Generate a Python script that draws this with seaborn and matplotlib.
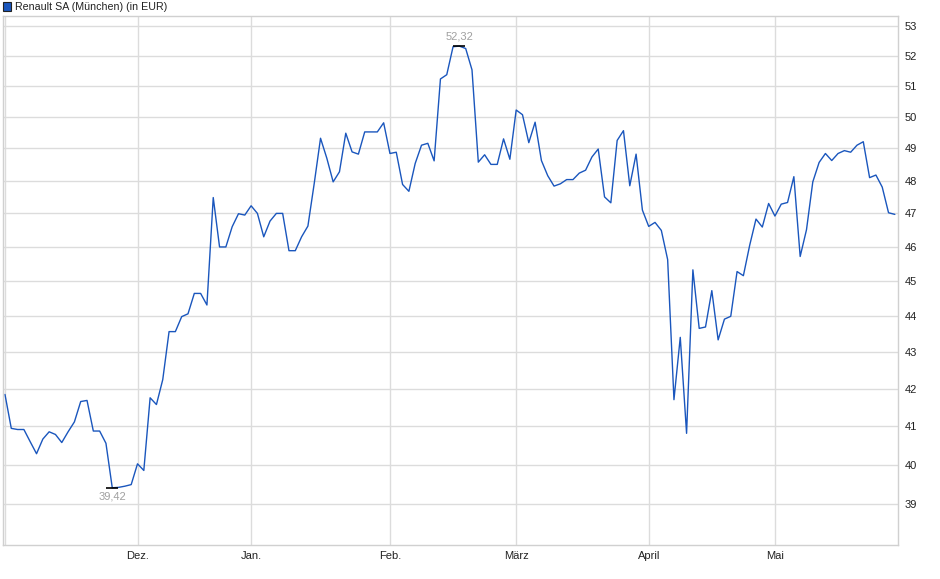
import pandas as pd
import numpy as np
import matplotlib
matplotlib.use('Agg')
import matplotlib.pyplot as plt
from matplotlib.patches import Rectangle
from matplotlib.ticker import FixedLocator, NullFormatter
import seaborn as sns

#trading days at the Munich exchange, Nov 2024 - May 2025
holidays = ['2024-12-24', '2024-12-25', '2024-12-26', '2024-12-31', '2025-01-01',
            '2025-04-18', '2025-04-21', '2025-05-01']
dates = pd.bdate_range('2024-11-01', '2025-05-29')
dates = dates[~dates.isin(pd.to_datetime(holidays))]

#closing prices in EUR
nov = [41.85, 40.95, 40.92, 40.92, 40.6, 40.29, 40.67, 40.86, 40.79, 40.58, 40.86,
       41.12, 41.66, 41.69, 40.88, 40.88, 40.56, 39.42, 39.43, 39.46, 39.5]
dec = [40.03, 39.86, 41.76, 41.58, 42.25, 43.57, 43.57, 43.99, 44.07, 44.65, 44.65,
       44.32, 47.48, 46.0, 46.0, 46.6, 46.99, 46.95]
jan = [47.23, 47.0, 46.3, 46.77, 47.0, 47.0, 45.89, 45.89, 46.3, 46.62, 47.91,
       49.32, 48.69, 47.96, 48.27, 49.48, 48.89, 48.82, 49.52, 49.52, 49.52, 49.81]
feb = [48.84, 48.88, 47.88, 47.67, 48.53, 49.1, 49.16, 48.61, 51.23, 51.37, 52.3,
       52.32, 52.24, 51.53, 48.57, 48.8, 48.5, 48.5, 49.3, 48.66]
mar = [50.22, 50.07, 49.18, 49.83, 48.62, 48.15, 47.83, 47.9, 48.03, 48.03, 48.23,
       48.32, 48.73, 48.98, 47.5, 47.32, 49.25, 49.56, 47.84, 48.82, 47.1]
apr = [46.61, 46.73, 46.49, 45.63, 41.71, 43.41, 40.82, 45.33, 43.66, 43.7, 44.73,
       43.34, 43.92, 44.0, 45.28, 45.16, 46.05, 46.83, 46.59, 47.3]
may = [46.92, 47.28, 47.33, 48.12, 45.72, 46.51, 47.96, 48.56, 48.84, 48.62, 48.84,
       48.93, 48.88, 49.1, 49.21, 48.09, 48.17, 47.8, 47.02, 46.97]

month_names = {12: 'Dez.', 1: 'Jan.', 2: 'Feb.', 3: 'März', 4: 'April', 5: 'Mai'}
y_ticks = list(range(39, 54))

df = pd.DataFrame({'date': dates, 'price': nov + dec + jan + feb + mar + apr + may})
df['idx'] = np.arange(len(df))

sns.set_style('white')
plt.rcParams['font.family'] = ['Liberation Sans', 'DejaVu Sans']

fig = plt.figure(figsize=(9.4, 5.79), dpi=100)
ax = fig.add_axes([2.7 / 940, 34 / 579, (898 - 2.7) / 940, (545 - 16) / 579])

sns.lineplot(data=df, x='idx', y='price', ax=ax, color='#1a56bd', linewidth=1.0)

ax.set_yscale('log')
ax.set_ylim(38.0, 53.34)
ax.set_xlim(-0.36, 141.5)

#month ticks at the first trading day of each month
first = df.groupby([df['date'].dt.year, df['date'].dt.month])['idx'].min()
month_pos = [i for (y, m), i in first.items() if m in month_names]
month_lab = [month_names[df['date'][i].month] for i in month_pos]
ax.xaxis.set_major_locator(FixedLocator(month_pos))
ax.set_xticklabels(month_lab)
ax.xaxis.set_minor_locator(FixedLocator([0]))

ax.yaxis.set_major_locator(FixedLocator(y_ticks))
ax.yaxis.set_minor_locator(FixedLocator([]))
ax.yaxis.set_minor_formatter(NullFormatter())
ax.set_yticklabels([str(v) for v in y_ticks])
ax.yaxis.tick_right()

ax.grid(True, which='major', color='#dcdcdc', linewidth=1.0)
ax.grid(True, which='minor', axis='x', color='#dcdcdc', linewidth=1.0)
ax.tick_params(axis='both', length=0, labelsize=8, colors='#222222')
ax.tick_params(axis='y', pad=5)
ax.tick_params(axis='x', pad=4)
for s in ax.spines.values():
    s.set_color('#d0d0d0')
    s.set_linewidth(1.0)
ax.set_xlabel('')
ax.set_ylabel('')

#high and low markers
hi = df['price'].idxmax()
lo = df['price'].idxmin()
for i, dy, va in [(hi, 3, 'bottom'), (lo, -3, 'top')]:
    ax.plot(df['idx'][i], df['price'][i], marker='_', color='black', markersize=8, mew=1.2)
    ax.annotate(f"{df['price'][i]:.2f}".replace('.', ','), (df['idx'][i], df['price'][i]),
                xytext=(0, dy), textcoords='offset points', ha='center', va=va,
                fontsize=8, color='#a0a0a0')

#legend box top left
fig.patches.append(Rectangle((3 / 940, 1 - 11 / 579), 8 / 940, 9 / 579,
                             transform=fig.transFigure, facecolor='#1a56bd',
                             edgecolor='#222222', linewidth=0.8))
fig.text(15 / 940, 1 - 7 / 579, 'Renault SA (München) (in EUR)', fontsize=7.7,
         va='center', ha='left', color='#222222')

fig.savefig('out.png', dpi=100)
